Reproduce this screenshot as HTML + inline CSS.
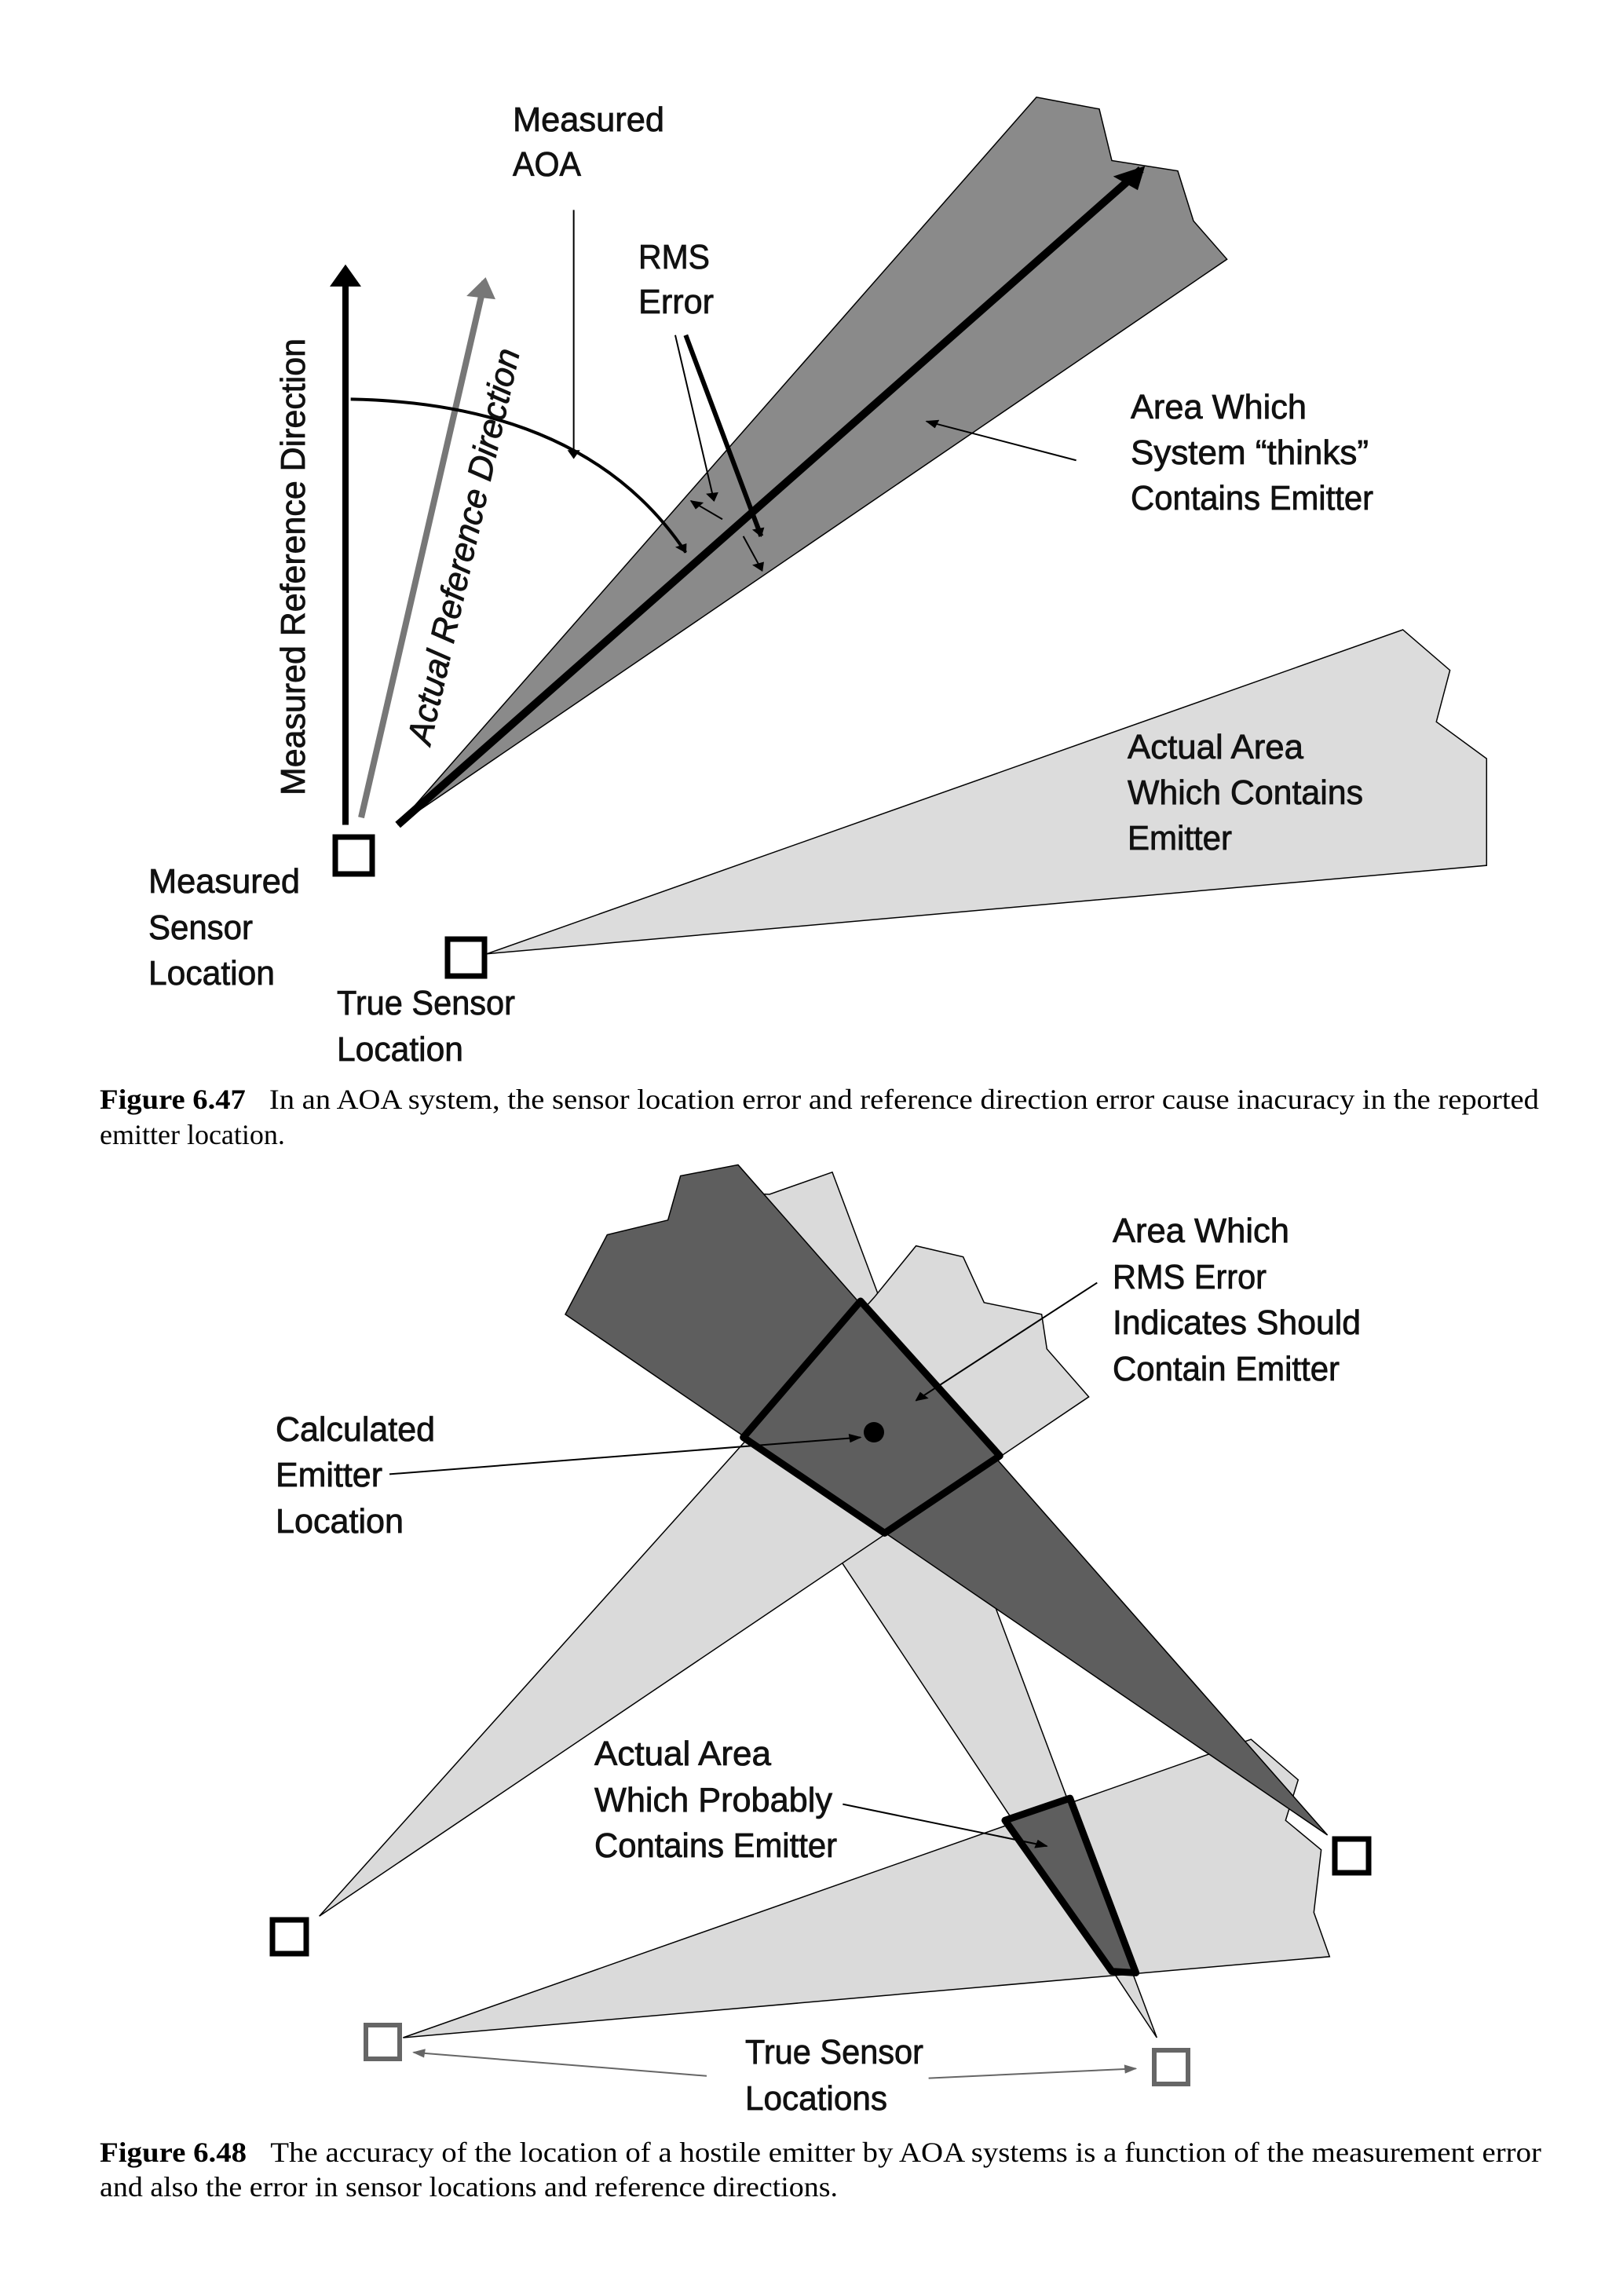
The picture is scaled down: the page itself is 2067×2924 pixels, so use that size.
<!DOCTYPE html>
<html><head><meta charset="utf-8"><style>
html,body{margin:0;padding:0;background:#fff}
svg{display:block}
.t{font-family:"Liberation Sans",sans-serif;font-size:44px;fill:#111;stroke:#111;stroke-width:0.8}
.c{font-family:"Liberation Serif",serif;font-size:36px;fill:#000}
</style></head><body>
<svg width="2067" height="2924" viewBox="0 0 2067 2924" xmlns="http://www.w3.org/2000/svg">
<defs>
<marker id="a" viewBox="0 0 10 10" refX="9" refY="5" markerWidth="14" markerHeight="12" markerUnits="userSpaceOnUse" orient="auto"><path d="M0,0L10,5L0,10z" fill="#000"/></marker>
<marker id="ag" viewBox="0 0 10 10" refX="9" refY="5" markerWidth="14" markerHeight="12" markerUnits="userSpaceOnUse" orient="auto"><path d="M0,0L10,5L0,10z" fill="#666"/></marker>
<marker id="A" viewBox="0 0 10 10" refX="8" refY="5" markerWidth="34" markerHeight="30" markerUnits="userSpaceOnUse" orient="auto"><path d="M0,0L10,5L0,10z" fill="#000"/></marker>
<marker id="AG" viewBox="0 0 10 10" refX="8" refY="5" markerWidth="34" markerHeight="28" markerUnits="userSpaceOnUse" orient="auto"><path d="M0,0L10,5L0,10z" fill="#777"/></marker>
</defs>

<!-- TOP FIGURE -->
<g transform="scale(1.3333,0.938)">
<polygon points="465,1295 1340,855 1385,910 1372,980 1420,1030 1420,1175" fill="#dcdcdc" stroke="#000" stroke-width="1.5" vector-effect="non-scaling-stroke"/>
<polygon points="380,1120 990,132 1050,148 1062,218 1125,232 1140,300 1172,352" fill="#8a8a8a" stroke="#000" stroke-width="1.5" vector-effect="non-scaling-stroke"/>
<line x1="380" y1="1120" x2="1090" y2="230" stroke="#000" stroke-width="10" vector-effect="non-scaling-stroke" marker-end="url(#A)"/>
<line x1="330" y1="1120" x2="330" y2="365" stroke="#000" stroke-width="8" vector-effect="non-scaling-stroke" marker-end="url(#A)"/>
<line x1="345" y1="1110" x2="463" y2="382" stroke="#777" stroke-width="8" vector-effect="non-scaling-stroke" marker-end="url(#AG)"/>
<path d="M335,542 Q560,548 655,750" fill="none" stroke="#000" stroke-width="4" vector-effect="non-scaling-stroke" marker-end="url(#a)"/>
<line x1="548" y1="285" x2="548" y2="622" stroke="#000" stroke-width="2" vector-effect="non-scaling-stroke" marker-end="url(#a)"/>
<line x1="645" y1="455" x2="682" y2="680" stroke="#000" stroke-width="2" vector-effect="non-scaling-stroke" marker-end="url(#a)"/>
<line x1="655" y1="455" x2="727" y2="728" stroke="#000" stroke-width="6" vector-effect="non-scaling-stroke" marker-end="url(#a)"/>
<line x1="690" y1="705" x2="660" y2="680" stroke="#000" stroke-width="2" vector-effect="non-scaling-stroke" marker-end="url(#a)"/>
<line x1="710" y1="728" x2="728" y2="775" stroke="#000" stroke-width="2" vector-effect="non-scaling-stroke" marker-end="url(#a)"/>
<line x1="1028" y1="625" x2="885" y2="572" stroke="#000" stroke-width="2" vector-effect="non-scaling-stroke" marker-end="url(#a)"/>
</g>
<rect x="427" y="1066" width="47" height="47" fill="#fff" stroke="#000" stroke-width="7"/>
<rect x="570" y="1196" width="47" height="47" fill="#fff" stroke="#000" stroke-width="7"/>

<text class="t" x="653" y="167" textLength="193" lengthAdjust="spacingAndGlyphs">Measured</text>
<text class="t" x="653" y="224" textLength="87" lengthAdjust="spacingAndGlyphs">AOA</text>
<text class="t" x="813" y="342" textLength="91" lengthAdjust="spacingAndGlyphs">RMS</text>
<text class="t" x="813" y="399" textLength="96" lengthAdjust="spacingAndGlyphs">Error</text>
<text class="t" x="1440" y="533" textLength="224" lengthAdjust="spacingAndGlyphs">Area Which</text>
<text class="t" x="1440" y="591" textLength="303" lengthAdjust="spacingAndGlyphs">System “thinks”</text>
<text class="t" x="1440" y="649" textLength="309" lengthAdjust="spacingAndGlyphs">Contains Emitter</text>
<text class="t" x="1436" y="966" textLength="224" lengthAdjust="spacingAndGlyphs">Actual Area</text>
<text class="t" x="1436" y="1024" textLength="300" lengthAdjust="spacingAndGlyphs">Which Contains</text>
<text class="t" x="1436" y="1082" textLength="133" lengthAdjust="spacingAndGlyphs">Emitter</text>
<text class="t" x="189" y="1137" textLength="193" lengthAdjust="spacingAndGlyphs">Measured</text>
<text class="t" x="189" y="1196" textLength="133" lengthAdjust="spacingAndGlyphs">Sensor</text>
<text class="t" x="189" y="1254" textLength="161" lengthAdjust="spacingAndGlyphs">Location</text>
<text class="t" x="429" y="1292" textLength="227" lengthAdjust="spacingAndGlyphs">True Sensor</text>
<text class="t" x="429" y="1351" textLength="161" lengthAdjust="spacingAndGlyphs">Location</text>
<text class="t" transform="translate(388,1013) rotate(-90)" x="0" y="0" textLength="582" lengthAdjust="spacingAndGlyphs">Measured Reference Direction</text>
<text class="t" font-style="italic" transform="translate(548,950) rotate(-77.2)" x="0" y="0" textLength="515" lengthAdjust="spacingAndGlyphs">Actual Reference Direction</text>

<text class="c" x="127" y="1412" textLength="1833" lengthAdjust="spacingAndGlyphs"><tspan font-weight="bold">Figure 6.47</tspan><tspan dx="28">In an AOA system, the sensor location error and reference direction error cause inacuracy in the reported</tspan></text>
<text class="c" x="127" y="1457">emitter location.</text>

<!-- BOTTOM FIGURE -->
<g transform="translate(0,1460) scale(1.3333,0.938)">
<polygon points="1105,1210 620,170 650,60 735,65 795,35" fill="#dadada" stroke="#000" stroke-width="1.5" vector-effect="non-scaling-stroke"/>
<polygon points="305,1045 835,205 875,135 920,150 940,212 995,228 1000,275 1040,340" fill="#dadada" stroke="#000" stroke-width="1.5" vector-effect="non-scaling-stroke"/>
<polygon points="385,1210 1155,825 1195,805 1240,860 1228,915 1262,955 1255,1040 1270,1100" fill="#dadada" stroke="#000" stroke-width="1.5" vector-effect="non-scaling-stroke"/>
<polygon points="1268,935 540,228 580,120 638,100 650,40 705,25" fill="#5e5e5e" stroke="#000" stroke-width="1.5" vector-effect="non-scaling-stroke"/>
<polygon points="822,210 955,420 845,525 710,395" fill="#5e5e5e" stroke="#000" stroke-width="9" stroke-linejoin="round" vector-effect="non-scaling-stroke"/>
<polygon points="960,915 1022,885 1085,1122 1062,1120" fill="#5e5e5e" stroke="#000" stroke-width="9" stroke-linejoin="round" vector-effect="non-scaling-stroke"/>
<line x1="372" y1="445" x2="822" y2="395" stroke="#000" stroke-width="2" vector-effect="non-scaling-stroke" marker-end="url(#a)"/>
<line x1="1048" y1="185" x2="875" y2="345" stroke="#000" stroke-width="2" vector-effect="non-scaling-stroke" marker-end="url(#a)"/>
<line x1="805" y1="893" x2="1000" y2="950" stroke="#000" stroke-width="2" vector-effect="non-scaling-stroke" marker-end="url(#a)"/>
<line x1="675" y1="1262" x2="395" y2="1230" stroke="#666" stroke-width="2" vector-effect="non-scaling-stroke" marker-end="url(#ag)"/>
<line x1="887" y1="1265" x2="1085" y2="1252" stroke="#666" stroke-width="2" vector-effect="non-scaling-stroke" marker-end="url(#ag)"/>
</g>
<circle cx="1113" cy="1824" r="13" fill="#000"/>
<rect x="347" y="2445" width="43" height="43" fill="#fff" stroke="#000" stroke-width="7"/>
<rect x="1700" y="2342" width="43" height="43" fill="#fff" stroke="#000" stroke-width="7"/>
<rect x="466" y="2579" width="43" height="43" fill="#fff" stroke="#666" stroke-width="6"/>
<rect x="1470" y="2611" width="43" height="43" fill="#fff" stroke="#666" stroke-width="6"/>

<text class="t" x="1417" y="1582" textLength="225" lengthAdjust="spacingAndGlyphs">Area Which</text>
<text class="t" x="1417" y="1641" textLength="196" lengthAdjust="spacingAndGlyphs">RMS Error</text>
<text class="t" x="1417" y="1699" textLength="316" lengthAdjust="spacingAndGlyphs">Indicates Should</text>
<text class="t" x="1417" y="1758" textLength="289" lengthAdjust="spacingAndGlyphs">Contain Emitter</text>
<text class="t" x="351" y="1835" textLength="203" lengthAdjust="spacingAndGlyphs">Calculated</text>
<text class="t" x="351" y="1893" textLength="136" lengthAdjust="spacingAndGlyphs">Emitter</text>
<text class="t" x="351" y="1952" textLength="163" lengthAdjust="spacingAndGlyphs">Location</text>
<text class="t" x="757" y="2248" textLength="225" lengthAdjust="spacingAndGlyphs">Actual Area</text>
<text class="t" x="757" y="2307" textLength="303" lengthAdjust="spacingAndGlyphs">Which Probably</text>
<text class="t" x="757" y="2365" textLength="309" lengthAdjust="spacingAndGlyphs">Contains Emitter</text>
<text class="t" x="949" y="2628" textLength="227" lengthAdjust="spacingAndGlyphs">True Sensor</text>
<text class="t" x="949" y="2687" textLength="181" lengthAdjust="spacingAndGlyphs">Locations</text>

<text class="c" x="127" y="2753" textLength="1836" lengthAdjust="spacingAndGlyphs"><tspan font-weight="bold">Figure 6.48</tspan><tspan dx="28">The accuracy of the location of a hostile emitter by AOA systems is a function of the measurement error</tspan></text>
<text class="c" x="127" y="2797" textLength="940" lengthAdjust="spacingAndGlyphs">and also the error in sensor locations and reference directions.</text>
</svg>
</body></html>
